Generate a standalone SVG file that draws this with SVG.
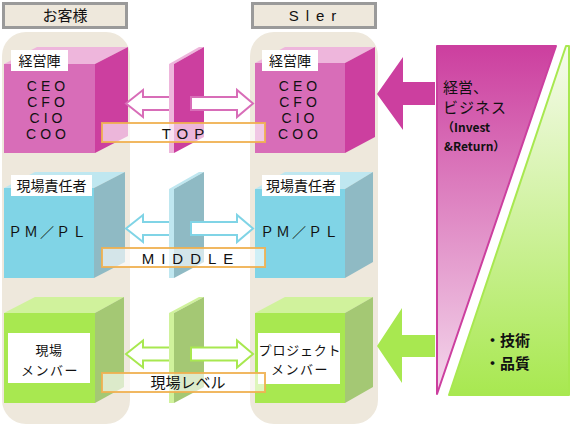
<svg xmlns="http://www.w3.org/2000/svg" width="570" height="425" viewBox="0 0 570 425">
<style>
.col{fill:#eee8dc}
.hdr{fill:#eee8dc;stroke:#9a9a9a;stroke-width:3}
.t{font-family:"Liberation Sans","Noto Sans CJK JP",sans-serif;fill:#111}
.j{font-family:"Noto Sans CJK JP","Liberation Sans",sans-serif;fill:#111}
.lbl{fill:#fff}
.pf{fill:#d86db8}.pt{fill:#eeb6dc}.ps{fill:#cc3f9f}
.bf{fill:#80d4e6}.bt{fill:#bfe7f0}.bs{fill:#8fbac4}
.gf{fill:#a8e850}.gt{fill:#d0f29c}.gs{fill:#a4c874}
.ap{fill:#fff;stroke:#d86db8;stroke-width:2}
.ab{fill:#fff;stroke:#80d4e6;stroke-width:2}
.ag{fill:#fff;stroke:#a8e850;stroke-width:2}
.band{fill:#fff;fill-opacity:0.62;stroke:#f0b050;stroke-width:2;stroke-opacity:0.9}
</style>
<defs>
<path id="dL" d="M0,0 L17,-13.5 L17,-6.5 L46,-6.5 L46,6.5 L17,6.5 L17,13.5 Z"/>
<path id="dR" d="M0,0 L-16,-13.5 L-16,-6.5 L-62,-6.5 L-62,6.5 L-16,6.5 L-16,13.5 Z"/>
<linearGradient id="gp" x1="0" y1="0" x2="0" y2="1">
<stop offset="0" stop-color="#cc3f9f"/><stop offset="1" stop-color="#f4d8ec"/>
</linearGradient>
<linearGradient id="gg" x1="0" y1="0" x2="0" y2="1">
<stop offset="0" stop-color="#f6fbec"/><stop offset="1" stop-color="#a8e850"/>
</linearGradient>
</defs>

<g id="columns">
<rect class="col" x="2" y="32" width="128" height="392" rx="24"/>
<rect class="col" x="250" y="32" width="128" height="392" rx="24"/>
</g>

<g id="header-client">
<rect class="hdr" x="3.5" y="3.5" width="123" height="24"/>
<text class="j" x="65" y="21" font-size="15" text-anchor="middle">お客様</text>
</g>
<g id="header-sier">
<rect class="hdr" x="252.5" y="3.5" width="123" height="24"/>
<text class="t" x="316" y="21" font-size="15" text-anchor="middle" letter-spacing="7">Sler</text>
</g>

<g id="client-top">
<rect class="pf" x="4" y="64" width="91" height="89"/>
<polygon class="pt" points="4,64 37,47 128,47 95,64"/>
<polygon class="ps" points="95,64 128,47 128,136 95,153"/>
<rect class="lbl" x="11" y="50" width="57" height="21"/>
<text class="j" x="39.5" y="66" font-size="14" text-anchor="middle">経営陣</text>
<text class="t" x="48" y="91" font-size="14" text-anchor="middle" letter-spacing="4">CEO</text>
<text class="t" x="48" y="107" font-size="14" text-anchor="middle" letter-spacing="4">CFO</text>
<text class="t" x="48" y="123" font-size="14" text-anchor="middle" letter-spacing="4">CIO</text>
<text class="t" x="48" y="139" font-size="14" text-anchor="middle" letter-spacing="4">COO</text>
</g>

<g id="sier-top">
<rect class="pf" x="255" y="63" width="90" height="90"/>
<polygon class="pt" points="255,63 285,47 375,47 345,63"/>
<polygon class="ps" points="345,63 375,47 375,137 345,153"/>
<rect class="lbl" x="262" y="50" width="56" height="21"/>
<text class="j" x="290" y="66" font-size="14" text-anchor="middle">経営陣</text>
<text class="t" x="300" y="91" font-size="14" text-anchor="middle" letter-spacing="4">CEO</text>
<text class="t" x="300" y="107" font-size="14" text-anchor="middle" letter-spacing="4">CFO</text>
<text class="t" x="300" y="123" font-size="14" text-anchor="middle" letter-spacing="4">CIO</text>
<text class="t" x="300" y="139" font-size="14" text-anchor="middle" letter-spacing="4">COO</text>
</g>

<g id="client-middle">
<rect class="bf" x="4" y="188" width="90" height="90"/>
<polygon class="bt" points="4,188 35,172 125,172 94,188"/>
<polygon class="bs" points="94,188 125,172 125,262 94,278"/>
<rect class="lbl" x="11" y="175" width="81" height="21"/>
<text class="j" x="51.5" y="191" font-size="14" text-anchor="middle">現場責任者</text>
<text class="j" x="48" y="237" font-size="14" text-anchor="middle" letter-spacing="2">ＰＭ／ＰＬ</text>
</g>

<g id="sier-middle">
<rect class="bf" x="255" y="189" width="90" height="89"/>
<polygon class="bt" points="255,189 285,172 373,172 345,189"/>
<polygon class="bs" points="345,189 373,172 373,262 345,278"/>
<rect class="lbl" x="262" y="175" width="78" height="21"/>
<text class="j" x="301" y="191" font-size="14" text-anchor="middle">現場責任者</text>
<text class="j" x="300" y="237" font-size="14" text-anchor="middle" letter-spacing="2">ＰＭ／ＰＬ</text>
</g>

<g id="client-bottom">
<rect class="gf" x="4" y="313" width="91" height="90"/>
<polygon class="gt" points="4,313 35,297 124,297 95,313"/>
<polygon class="gs" points="95,313 124,297 124,387 95,403"/>
<rect class="lbl" x="8" y="333" width="82" height="50"/>
<text class="j" x="49" y="355" font-size="13" text-anchor="middle" letter-spacing="0.5">現場</text>
<text class="j" x="50" y="374.5" font-size="13" text-anchor="middle" letter-spacing="1.5">メンバー</text>
</g>

<g id="sier-bottom">
<rect class="gf" x="255" y="313" width="90" height="90"/>
<polygon class="gt" points="255,313 285,297 373,297 345,313"/>
<polygon class="gs" points="345,313 373,297 373,387 345,403"/>
<rect class="lbl" x="258" y="333" width="82" height="51"/>
<text class="j" x="300" y="354.5" font-size="13" text-anchor="middle" letter-spacing="0.8">プロジェクト</text>
<text class="j" x="300" y="374" font-size="13" text-anchor="middle" letter-spacing="1.5">メンバー</text>
</g>

<g id="connectors">
<use href="#dL" class="ap" transform="translate(126,103.5)"/>
<use href="#dL" class="ab" transform="translate(126,228.5)"/>
<use href="#dL" class="ag" transform="translate(126,354)"/>

<g id="panel-top">
<polygon class="pt" points="169,64 199,47 204,47 174,64 174,153 169,153"/>
<polygon class="ps" points="174,64 204,47 204,137 174,153"/>
</g>
<g id="panel-middle">
<polygon class="bt" points="169,189 199,172 204,172 174,189 174,278 169,278"/>
<polygon class="bs" points="174,189 204,172 204,262 174,278"/>
</g>
<g id="panel-bottom">
<polygon class="gt" points="169,313 199,297 204,297 174,313 174,403 169,403"/>
<polygon class="gs" points="174,313 204,297 204,387 174,403"/>
</g>

<use href="#dR" class="ap" transform="translate(253,103.5)"/>
<use href="#dR" class="ab" transform="translate(253,228.5)"/>
<use href="#dR" class="ag" transform="translate(253,354)"/>

<path d="M377,94 L403,57 L403,82 L435,82 L435,105 L403,105 L403,130 Z" fill="#cc3f9f"/>
<path d="M377,346 L402,308 L402,335 L435,335 L435,357 L402,357 L402,383 Z" fill="#a8e850"/>
</g>

<g id="band-top">
<rect class="band" x="102" y="123" width="163" height="19"/>
<text class="t" x="186" y="138.5" font-size="15" text-anchor="middle" letter-spacing="6">TOP</text>
</g>
<g id="band-middle">
<rect class="band" x="102" y="248" width="163" height="19"/>
<text class="t" x="191" y="263.5" font-size="15" text-anchor="middle" letter-spacing="7">MIDDLE</text>
</g>
<g id="band-bottom">
<rect class="band" x="102" y="373" width="163" height="19"/>
<text class="j" x="188" y="388" font-size="15" text-anchor="middle">現場レベル</text>
</g>

<g id="business">
<polygon points="437,46 556,46 437,394" fill="url(#gp)" stroke="#cc3f9f" stroke-width="2" stroke-linejoin="round"/>
<text class="j" x="443" y="93" font-size="15">経営、</text>
<text class="j" x="443" y="113" font-size="15" letter-spacing="1">ビジネス</text>
<text class="j" x="442" y="132" font-size="12" font-weight="bold">（Invest</text>
<text class="j" x="444" y="150.5" font-size="12" font-weight="bold">&amp;Return）</text>
</g>
<g id="technology">
<polygon points="566,46 569,46 569,395 449,395" fill="url(#gg)" stroke="#a8e850" stroke-width="2" stroke-linejoin="round"/>
<text class="j" x="485" y="346" font-size="15" font-weight="bold">・技術</text>
<text class="j" x="485" y="369" font-size="15" font-weight="bold">・品質</text>
</g>
</svg>
